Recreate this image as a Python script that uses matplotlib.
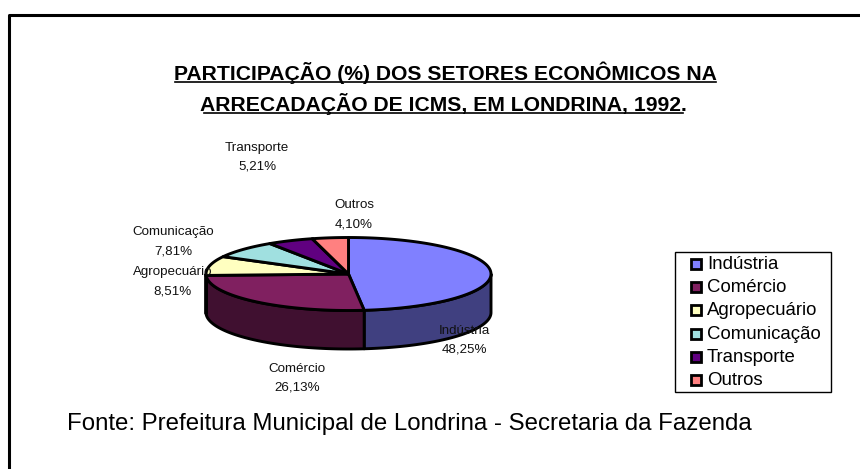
import numpy as np
from matplotlib import pyplot as plt
from matplotlib.patches import Polygon, Rectangle

setores = ['Indústria', 'Comércio', 'Agropecuário', 'Comunicação', 'Transporte', 'Outros']
valores = [48.25, 26.13, 8.51, 7.81, 5.21, 4.10]
rotulos = ['48,25%', '26,13%', '8,51%', '7,81%', '5,21%', '4,10%']
titulo = ['PARTICIPAÇÃO (%) DOS SETORES ECONÔMICOS NA', 'ARRECADAÇÃO DE ICMS, EM LONDRINA, 1992.']
fonte = 'Fonte: Prefeitura Municipal de Londrina - Secretaria da Fazenda'

cores = ['#8080FF', '#802060', '#FFFFC0', '#A0E0E0', '#600080', '#FF8080']
cores_lado = ['#404080', '#401030', '#808060', '#507070', '#300040', '#804040']
pos_rotulos = [(464, 340), (297, 378), (173, 282), (173, 242), (257, 157), (354, 215)]

plt.rcParams['font.family'] = ['Liberation Sans', 'DejaVu Sans']

cx, cy, rx, ry, prof = 348.5, 274, 142.5, 36.5, 38.5

fig = plt.figure(figsize=(8.6, 4.69), dpi=100)
ax = fig.add_axes([0, 0, 1, 1])
ax.set_xlim(0, 860)
ax.set_ylim(469, 0)
ax.axis('off')

ax.plot([8.5, 8.5, 860], [469, 15.5, 15.5], color='black', lw=2.2)

# angulos acumulados a partir do topo, sentido horario
acum = np.cumsum([0] + valores) / sum(valores) * 2 * np.pi

def borda(a):
    return cx + rx * np.sin(a), cy - ry * np.cos(a)

# parede lateral, so a parte da frente
for i in range(len(valores)):
    ini = max(acum[i], np.pi / 2)
    fim = min(acum[i + 1], 3 * np.pi / 2)
    if fim <= ini:
        continue
    a = np.linspace(ini, fim, 80)
    x, y = borda(a)
    pts = np.r_[np.c_[x, y], np.c_[x[::-1], y[::-1] + prof]]
    ax.add_patch(Polygon(pts, fc=cores_lado[i], ec='black', lw=2.1, joinstyle='round', zorder=2))

# tampo
for i in range(len(valores)):
    a = np.linspace(acum[i], acum[i + 1], 120)
    x, y = borda(a)
    pts = np.r_[[[cx, cy]], np.c_[x, y]]
    ax.add_patch(Polygon(pts, fc=cores[i], ec='black', lw=2.1, joinstyle='round', zorder=3))

for i in range(len(setores)):
    ax.text(pos_rotulos[i][0], pos_rotulos[i][1] - 9.5, setores[i], fontsize=9.6, color='#111111',
            ha='center', va='center', zorder=5)
    ax.text(pos_rotulos[i][0], pos_rotulos[i][1] + 9.5, rotulos[i], fontsize=9.6, color='#111111',
            ha='center', va='center', zorder=5)

ax.text(445.5, 73, titulo[0], fontsize=15.2, fontweight='bold', ha='center', va='center')
ax.text(443.5, 104, titulo[1], fontsize=15.2, fontweight='bold', ha='center', va='center')
ax.plot([175, 716], [82, 82], color='black', lw=1.2)
ax.plot([204, 683], [113, 113], color='black', lw=1.2)

# legenda
ax.add_patch(Rectangle((675, 252), 156, 140, fc='white', ec='black', lw=1))
for i in range(len(setores)):
    y = 264 + i * 23.2
    ax.add_patch(Rectangle((690.5, y - 5), 10, 10, fc=cores[i], ec='black', lw=2, zorder=3))
    ax.text(707, y + 0.5, setores[i], fontsize=13.4, ha='left', va='center', zorder=3)

ax.text(67, 424, fonte, fontsize=17.3, ha='left', va='center')

fig.savefig('out.png', dpi=100)
